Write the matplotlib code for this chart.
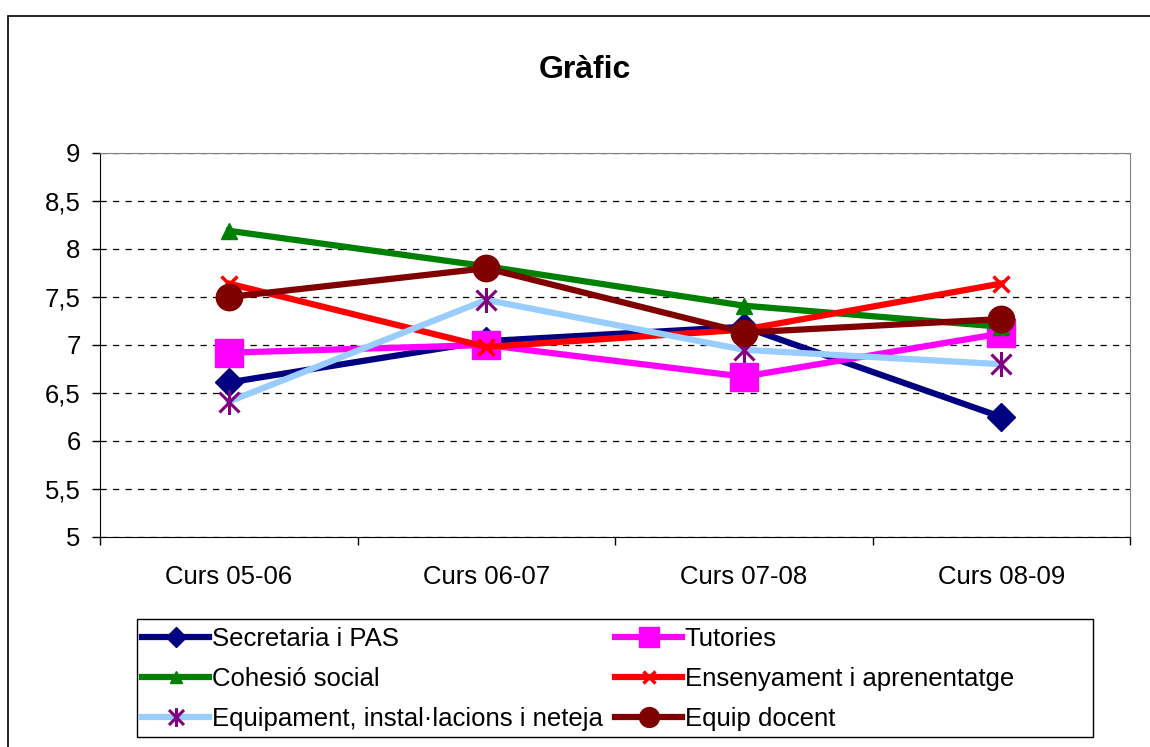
import matplotlib
matplotlib.use('Agg')
import matplotlib.pyplot as plt
from matplotlib.path import Path
from matplotlib.patches import Rectangle
from matplotlib.ticker import FixedLocator

plt.rcParams['font.family'] = ['Liberation Sans', 'DejaVu Sans']

# Data
cursos = ['Curs 05-06', 'Curs 06-07', 'Curs 07-08', 'Curs 08-09']
secretaria = [6.61, 7.04, 7.19, 6.25]
tutories = [6.92, 7.00, 6.67, 7.12]
cohesio = [8.19, 7.82, 7.41, 7.19]
ensenyament = [7.64, 6.98, 7.16, 7.64]
equipament = [6.41, 7.47, 6.95, 6.80]
equip_docent = [7.50, 7.80, 7.13, 7.27]
yticks = [5, 5.5, 6, 6.5, 7, 7.5, 8, 8.5, 9]
ytick_labels = ['5', '5,5', '6', '6,5', '7', '7,5', '8', '8,5', '9']

# asterisk marker: vertical bar plus an X
star = Path([(0, -1), (0, 1), (-0.8, -0.8), (0.8, 0.8), (-0.8, 0.8), (0.8, -0.8)],
            [Path.MOVETO, Path.LINETO, Path.MOVETO, Path.LINETO, Path.MOVETO, Path.LINETO])

fs = 18.5
fig = plt.figure(figsize=(11.5, 7.47), dpi=100)
# outer chart frame
fig.patches.append(Rectangle((8 / 1150, -0.1), 1.2, 1.1 - 16 / 747, transform=fig.transFigure,
                             fill=False, edgecolor='black', lw=1.2))
# legend frame
fig.patches.append(Rectangle((137 / 1150, 1 - 737 / 747), 956 / 1150, 118 / 747,
                             transform=fig.transFigure, fill=False, edgecolor='black', lw=1.0))

ax = fig.add_axes([100 / 1150, 1 - 537 / 747, 1030 / 1150, 384 / 747])
x = range(len(cursos))
lw = 4.5

h_sec, = ax.plot(x, secretaria, color='#000080', lw=lw, marker='D', ms=14, label='Secretaria i PAS')
h_tut, = ax.plot(x, tutories, color='#FF00FF', lw=lw, marker='s', ms=20, label='Tutories')
h_coh, = ax.plot(x, cohesio, color='#008000', lw=lw, marker='^', ms=12, label='Cohesió social')
h_ens, = ax.plot(x, ensenyament, color='#FF0000', lw=lw, marker='x', ms=11, mew=2.5,
                 label='Ensenyament i aprenentatge')
h_eqp, = ax.plot(x, equipament, color='#99CCFF', lw=lw, marker=star, ms=18, mew=2.2,
                 mec='#800080', label="Equipament, instal·lacions i neteja")
h_doc, = ax.plot(x, equip_docent, color='#800000', lw=lw, marker='o', ms=19, label='Equip docent')

ax.set_xlim(-0.5, 3.5)
ax.set_ylim(5, 9)
ax.set_yticks(yticks)
ax.set_yticklabels(ytick_labels)
ax.set_xticks(list(x))
ax.set_xticklabels(cursos)
ax.xaxis.set_minor_locator(FixedLocator([-0.5, 0.5, 1.5, 2.5, 3.5]))
ax.tick_params(axis='x', which='major', length=0, pad=20, labelsize=fs)
ax.tick_params(axis='x', which='minor', length=6, width=1, direction='out')
ax.tick_params(axis='y', length=6, width=1, direction='out', pad=8, labelsize=fs)
ax.grid(axis='y', color='black', linestyle=(0, (5, 5)), lw=0.9)
ax.set_axisbelow(True)
for s in ['top', 'right']:
    ax.spines[s].set_color('#808080')
for s in ['left', 'bottom']:
    ax.spines[s].set_color('black')

fig.text(585 / 1150, 1 - 70 / 747, 'Gràfic', ha='center', va='center',
         fontsize=23, fontweight='bold')

handles = [h_sec, h_coh, h_eqp, h_tut, h_ens, h_doc]
leg = fig.legend(handles=handles, labels=[h.get_label() for h in handles], ncol=2,
                 loc='upper left', bbox_to_anchor=(137 / 1150, 1 - 622 / 747),
                 fontsize=fs, frameon=False,
                 handlelength=2.6, handletextpad=0.1, labelspacing=0.62, borderpad=0.2,
                 columnspacing=0.5, markerscale=0.75, borderaxespad=0)

plt.savefig('out.png', dpi=100)
